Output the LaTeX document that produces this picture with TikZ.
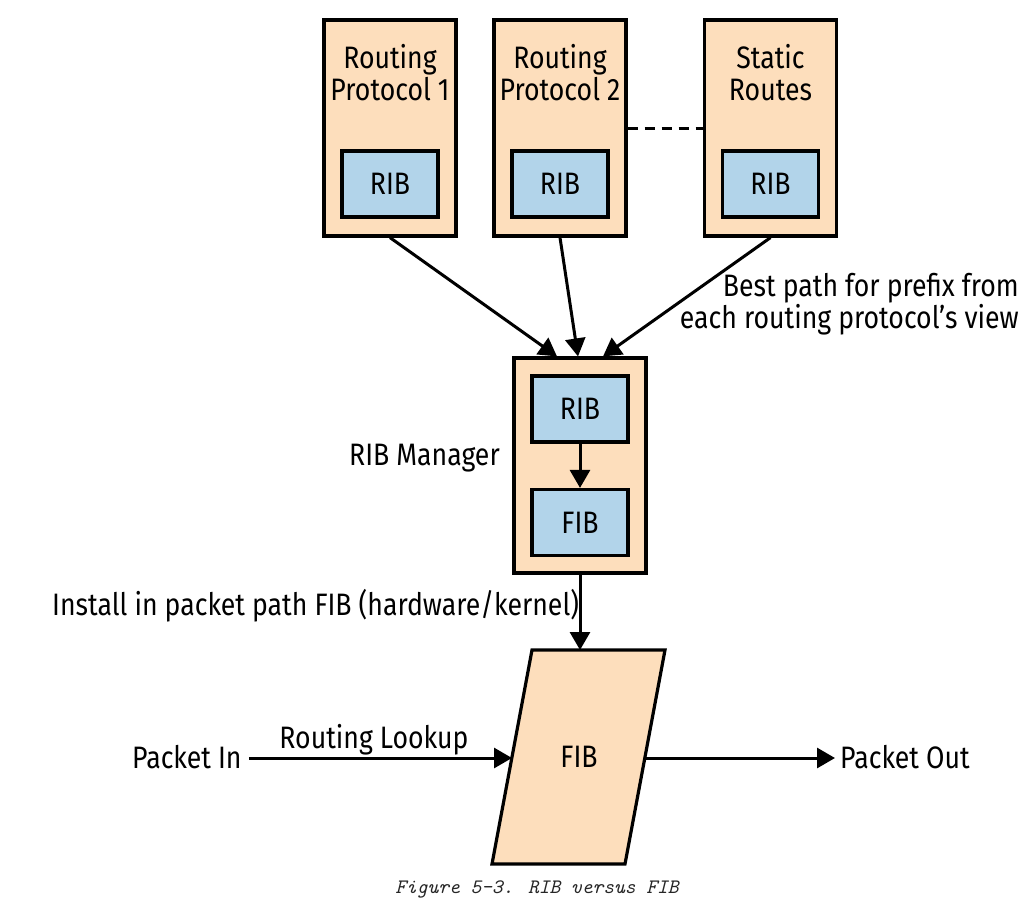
\documentclass[tikz,border=0pt]{standalone}
\usepackage{fontspec}
\setmainfont{Fira Sans}[FakeStretch=0.86]
\usetikzlibrary{arrows.meta,calc}
\definecolor{peach}{RGB}{253,222,188}
\definecolor{ribblue}{RGB}{178,212,234}
\begin{document}
\begin{tikzpicture}[x=1pt,y=-1pt,
  font=\fontsize{31}{32}\selectfont,
  outerbox/.style={draw, line width=3.2pt, fill=peach, minimum width=132pt, minimum height=216pt, inner sep=0pt},
  innerbox/.style={draw, line width=3.2pt, fill=ribblue, minimum width=96pt, minimum height=66pt, inner sep=0pt},
  conn/.style={line width=3pt, -{Triangle[length=18pt,width=20pt]}},
  lbl/.style={inner sep=0pt}]
\fill[white] (0,0) rectangle (1036,911);
\useasboundingbox (0,0) rectangle (1036,911);

% protocol boxes
\node[outerbox] (p1) at (390,128) {};
\node[innerbox] (rib1) at (390,184) {RIB};
\node[lbl, anchor=base, align=center] (p1t) at (390,100) {Routing\\Protocol 1};

\node[outerbox] (p2) at (560,128) {};
\node[innerbox] (rib2) at (560,184) {RIB};
\node[lbl, anchor=base, align=center] (p2t) at (560,100) {Routing\\Protocol 2};

\node[outerbox] (p3) at (770.5,128) {};
\node[innerbox] (rib3) at (770.5,184) {RIB};
\node[lbl, anchor=base, align=center] (p3t) at (770.5,100) {Static\\Routes};

\draw[line width=3pt, dash pattern=on 10pt off 7pt] (p2.east) -- (p3.west);

% RIB manager
\node[outerbox, minimum height=215pt] (mgr) at (580,465.5) {};
\node[innerbox] (mrib) at (580,409) {RIB};
\node[innerbox] (mfib) at (580,522.5) {FIB};
\node[lbl, anchor=base east] (mgrl) at (500,465) {RIB Manager};

\draw[conn] (p1.south) -- ($(mgr.north)+(-23,0)$);
\draw[conn] (p2.south) -- ($(mgr.north)+(-2,0)$);
\draw[conn] (p3.south) -- ($(mgr.north)+(23,0)$);
\draw[conn] (mrib.south) -- (mfib.north);

\node[lbl, anchor=base east, align=right] (best) at (1019,328) {Best path for prefix from\\each routing protocol's view};

% packet path FIB
\draw[line width=3.2pt, fill=peach, line join=miter] (532,650) -- (665,650) -- (625,864) -- (492,864) -- cycle;
\node[lbl] (fib) at (579,757) {FIB};
\coordinate (fibtop) at (580,650);
\coordinate (fibin) at (512,758);
\coordinate (fibout) at (645,758);

\draw[conn] (mgr.south) -- (fibtop);
\node[lbl, anchor=base west] (inst) at (52,615) {Install in packet path FIB (hardware/kernel)};

\node[lbl, anchor=base west] (pin) at (132,768) {Packet In};
\node[lbl, anchor=base] (look) at (374,748) {Routing Lookup};
\node[lbl, anchor=base west] (pout) at (840,768) {Packet Out};
\draw[conn] ([xshift=7pt]pin.east |- fibin) -- (fibin);
\draw[conn] (fibout) -- ([xshift=-5pt]pout.west |- fibout);

\node[lbl, anchor=base, text=black!85] (cap) at (537,893) {\ttfamily\itshape\fontsize{20.5}{22}\selectfont Figure 5-3. RIB versus FIB};
\end{tikzpicture}
\end{document}
